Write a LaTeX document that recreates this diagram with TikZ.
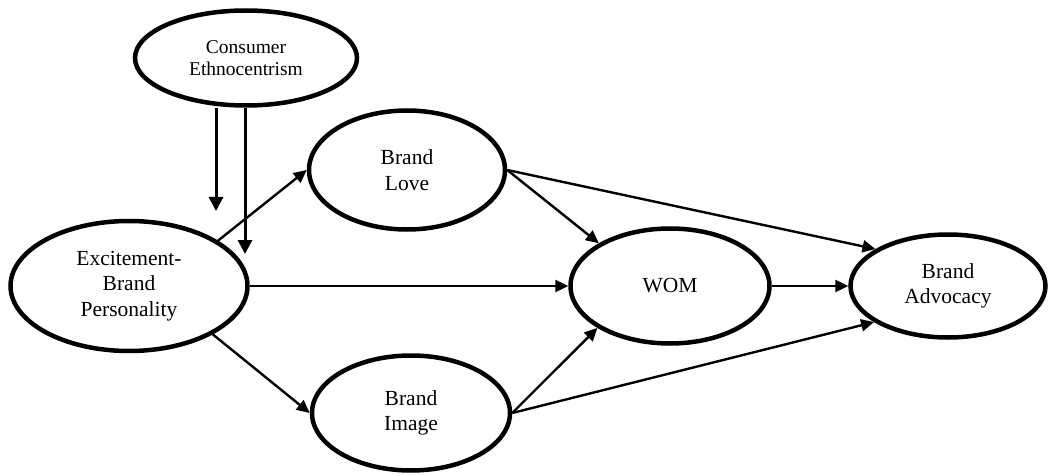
\documentclass[tikz,border=0pt]{standalone}
\usepackage{fontspec}
\setmainfont{Liberation Serif}
\usetikzlibrary{shapes.geometric,arrows.meta}
\tikzset{
  construct/.style={ellipse, draw, line width=4.5pt, inner sep=0pt, align=center,
    font=\fontsize{21.5}{25.5}\selectfont},
  path/.style={line width=2.4pt, -{Triangle[length=13pt,width=12pt]}},
  modpath/.style={line width=3pt, -{Triangle[length=14pt,width=14pt]}}
}
\begin{document}
\begin{tikzpicture}[x=1pt,y=-1pt]
\useasboundingbox (0,0) rectangle (1053,476);
\node[construct, minimum width=222pt, minimum height=95pt,
  font=\fontsize{19.5}{22}\selectfont] (ce) at (246,58) {Consumer\\Ethnocentrism};
\node[construct, minimum width=196pt, minimum height=119pt] (bl) at (407,170) {Brand\\Love};
\node[construct, minimum width=237pt, minimum height=130pt] (ebp) at (129,286) {Excitement-\\Brand\\Personality};
\node[construct, minimum width=199pt, minimum height=115pt] (wom) at (670,286) {WOM};
\node[construct, minimum width=195pt, minimum height=103pt] (ba) at (948,286) {Brand\\Advocacy};
\node[construct, minimum width=198pt, minimum height=115pt] (bi) at (411,413) {Brand\\Image};
\coordinate (m1) at (216,211);
\coordinate (m2) at (245,254);
\draw[modpath] (ce.south -| m1) -- (m1);
\draw[modpath] (ce.south -| m2) -- (m2);
\draw[path] (ebp.27) -- (bl.west);
\draw[path] (ebp.east) -- (wom.west);
\draw[path] (ebp.-30) -- (bi.west);
\draw[path] (bl.east) -- (wom.149);
\draw[path] (bl.east) -- (ba.153);
\draw[path] (wom.east) -- (ba.west);
\draw[path] (bi.east) -- (wom.210);
\draw[path] (bi.east) -- (ba.206);
\end{tikzpicture}
\end{document}
